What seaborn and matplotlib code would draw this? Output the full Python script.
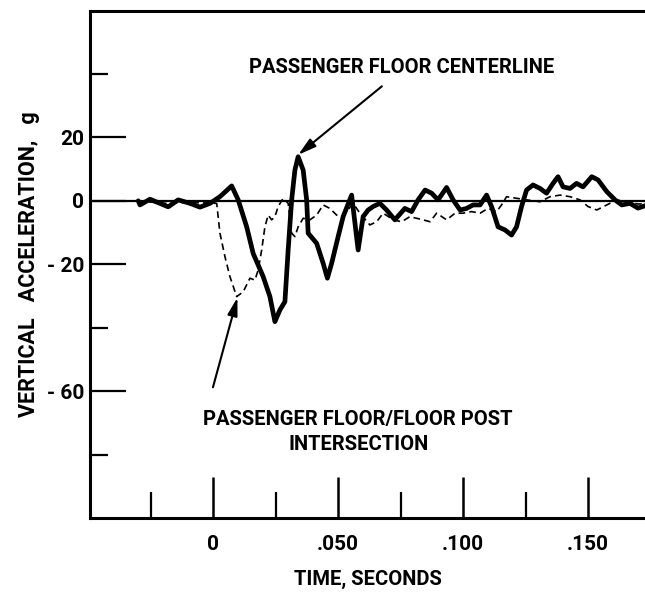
import matplotlib
matplotlib.use("Agg")
import matplotlib.pyplot as plt
import seaborn as sns
import pandas as pd
from matplotlib.ticker import FixedLocator

# ---- data (time in s, vertical acceleration in g) ----
centerline_t = [-0.030, -0.0293, -0.0253, -0.018, -0.014, -0.0093, -0.0053, -0.0013,
                0.0027, 0.0074, 0.010, 0.0134, 0.016, 0.020, 0.0227, 0.0247, 0.0267,
                0.0287, 0.030, 0.0314, 0.0327, 0.034, 0.036, 0.0374, 0.038, 0.0414,
                0.044, 0.0457, 0.0474, 0.050, 0.052, 0.0554, 0.058, 0.060, 0.062,
                0.064, 0.0667, 0.0694, 0.0727, 0.0767, 0.0794, 0.082, 0.0848, 0.0874,
                0.090, 0.0934, 0.096, 0.0988, 0.1014, 0.104, 0.1068, 0.1094, 0.1114,
                0.114, 0.1168, 0.1194, 0.1214, 0.1234, 0.1254, 0.128, 0.1308, 0.1334,
                0.136, 0.138, 0.140, 0.1428, 0.1454, 0.148, 0.1515, 0.154, 0.1575,
                0.1608, 0.1635, 0.1668, 0.1700, 0.1730]
centerline_g = [0.0, -1.3, 0.5, -1.9, 0.3, -0.8, -2.0, -0.8,
                1.3, 4.7, 0.3, -8.2, -16.6, -23.9, -30.2, -38.1, -34.4,
                -31.8, -15.5, 0.3, 9.7, 13.9, 9.7, 0.3, -10.2, -13.4,
                -19.7, -24.4, -19.7, -11.3, -5.0, 1.8, -15.5, -5.0, -2.9,
                -1.8, -0.8, -2.9, -6.0, -2.4, -3.4, 0.3, 3.4, 2.4,
                0.3, 4.2, 0.3, -2.9, -2.4, -1.3, -1.3, 1.8, -1.8,
                -8.2, -9.2, -10.8, -8.2, -1.8, 3.4, 5.0, 3.9, 2.4,
                5.5, 7.6, 4.4, 3.9, 5.5, 4.4, 7.6, 6.6, 2.9,
                0.3, -1.3, -0.8, -2.3, -1.5]

floorpost_t = [-0.030, -0.020, -0.010, 0.0014, 0.0027, 0.0047, 0.0067, 0.0094, 0.012,
               0.0147, 0.0167, 0.018, 0.0194, 0.0207, 0.022, 0.0234, 0.0247, 0.026,
               0.028, 0.030, 0.0314, 0.0327, 0.034, 0.036, 0.0387, 0.0414, 0.044,
               0.0467, 0.0494, 0.0514, 0.0534, 0.056, 0.0587, 0.0627, 0.0654, 0.068,
               0.0721, 0.0754, 0.0787, 0.084, 0.0868, 0.0894, 0.0934, 0.0968, 0.100,
               0.1034, 0.1068, 0.110, 0.1134, 0.1154, 0.1174, 0.1214, 0.1254, 0.1308,
               0.1348, 0.1388, 0.1428, 0.1468, 0.150, 0.1535, 0.1575, 0.1615, 0.1660,
               0.1700, 0.1730]
floorpost_g = [0.0, -0.8, -0.5, -0.8, -10.2, -17.6, -23.9, -30.2, -28.7,
               -24.4, -25.0, -21.8, -15.5, -8.2, -4.5, -6.0, -5.0, -1.8,
               0.8, -0.8, -10.2, -11.3, -8.2, -5.5, -6.0, -4.5, -1.3,
               -2.4, -4.5, -5.0, -3.4, -0.8, -3.9, -7.6, -6.6, -3.9,
               -6.0, -6.6, -5.0, -6.0, -6.6, -3.9, -6.0, -3.9, -3.9,
               -3.4, -3.9, -2.4, -3.4, -1.3, 1.3, 0.8, 0.3, -0.3,
               1.3, 1.8, 1.3, 0.3, -1.8, -2.9, -1.3, 0.3, -0.5,
               -1.0, -1.0]

x_major = [0.0, 0.05, 0.10, 0.15]
x_major_labels = ["0", ".050", ".100", ".150"]
x_minor = [-0.025, 0.025, 0.075, 0.125]
y_major = [20, 0, -20, -60]
y_major_labels = ["20", "0", "- 20", "- 60"]
y_minor = [40, -40, -80]

label_centerline = "PASSENGER FLOOR CENTERLINE"
label_floorpost = "PASSENGER FLOOR/FLOOR POST\nINTERSECTION"
x_title = "TIME, SECONDS"
y_title = "VERTICAL   ACCELERATION,   g"

# ---- style ----
sns.set_theme(style="white")
plt.rcParams["font.family"] = ["Roboto", "DejaVu Sans"]
plt.rcParams["font.weight"] = "bold"
for key in ["text.color", "axes.labelcolor", "xtick.color", "ytick.color"]:
    plt.rcParams[key] = "black"

FS = 14.5

fig = plt.figure(figsize=(6.45, 5.99), dpi=100)
ax = fig.add_axes([90 / 645, 1 - 518 / 599, 1 - 90 / 645, (518 - 10.5) / 599])

df_c = pd.DataFrame({"t": centerline_t, "g": centerline_g})
df_f = pd.DataFrame({"t": floorpost_t, "g": floorpost_g})

ax.axhline(0, color="black", lw=1.6, zorder=1)
sns.lineplot(data=df_f, x="t", y="g", ax=ax, color="black", lw=1.2,
             linestyle=(0, (4, 2.5)), sort=False, estimator=None, zorder=2)
sns.lineplot(data=df_c, x="t", y="g", ax=ax, color="black", lw=3.4,
             sort=False, estimator=None, zorder=3)

ax.set_xlim(-0.0493, 0.1728)
ax.set_ylim(-100, 60)

for side in ["left", "top", "bottom"]:
    ax.spines[side].set_visible(True)
    ax.spines[side].set_color("black")
    ax.spines[side].set_linewidth(2.2)
ax.spines["right"].set_visible(False)

ax.xaxis.set_major_locator(FixedLocator(x_major))
ax.xaxis.set_minor_locator(FixedLocator(x_minor))
ax.set_xticklabels(x_major_labels)
ax.yaxis.set_major_locator(FixedLocator(y_major))
ax.yaxis.set_minor_locator(FixedLocator(y_minor))
ax.set_yticklabels(y_major_labels)

ax.tick_params(axis="x", which="major", direction="in", length=29.5, width=1.8,
               pad=12, labelsize=15, color="black", bottom=True)
ax.tick_params(axis="x", which="minor", direction="in", length=18.5, width=1.6,
               color="black", bottom=True)
ax.tick_params(axis="y", which="major", direction="in", length=26, width=1.6,
               pad=4, labelsize=15, color="black", left=True)
ax.tick_params(axis="y", which="minor", direction="in", length=13, width=1.6,
               color="black", left=True)

ax.set_xlabel(x_title, fontsize=FS, fontweight="bold", labelpad=12)
ax.set_ylabel(y_title, fontsize=15.5, fontweight="bold", labelpad=5)

ax.text(0.0755, 41.9, label_centerline, ha="center", va="center",
        fontsize=FS, fontweight="bold")
ax.annotate("", xy=(0.034, 14.5), xytext=(0.0675, 36.1),
            arrowprops=dict(arrowstyle="-|>,head_length=0.9,head_width=0.25",
                            color="black", lw=1.5, shrinkA=0, shrinkB=0))
ax.text(0.058, -72.9, label_floorpost, ha="center", va="center",
        fontsize=FS, fontweight="bold", linespacing=1.45)
ax.annotate("", xy=(0.0097, -30.5), xytext=(-0.0001, -58.8),
            arrowprops=dict(arrowstyle="-|>,head_length=0.9,head_width=0.25",
                            color="black", lw=1.5, shrinkA=0, shrinkB=0))

fig.savefig("out.png", dpi=100)
